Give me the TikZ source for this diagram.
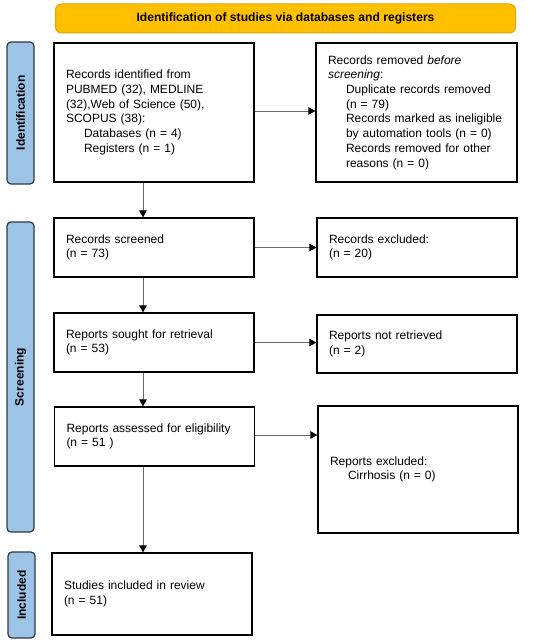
\documentclass[tikz,border=0pt]{standalone}
\usepackage{fontspec}
\setmainfont{Liberation Sans}
\usetikzlibrary{arrows.meta}

\definecolor{bannerfill}{HTML}{FFC000}
\definecolor{bannerline}{HTML}{E0A800}
\definecolor{phasefill}{HTML}{9DC3E6}
\definecolor{phaseline}{HTML}{2E3A46}
\definecolor{arrowgray}{HTML}{6A6A6A}

\tikzset{
  flowbox/.style={draw, line width=1.2pt, fill=white, text width=176pt, inner xsep=12pt,
     align=left, minimum width=200pt, font=\fontsize{12}{14.7}\selectfont},
  phase/.style={draw=phaseline, fill=phasefill, line width=1.2pt, rounded corners=4pt,
     rotate=90, minimum height=27pt, inner sep=0pt, font=\bfseries\fontsize{12}{14}\selectfont},
  banner/.style={draw=bannerline, fill=bannerfill, line width=1pt, rounded corners=6pt,
     minimum width=460pt, minimum height=29pt, font=\bfseries\fontsize{12.1}{14}\selectfont},
  flow/.style={draw=arrowgray, line width=1pt, -{Triangle[length=7pt,width=7.5pt,fill=black,color=black]}}
}
\newcommand{\ind}{\hspace*{18pt}}

\begin{document}
\begin{tikzpicture}[x=1pt,y=-1pt]
  \useasboundingbox (0,0) rectangle (550,642);

  \node[banner] (title) at (285.5,18.5) {Identification of studies via databases and registers};

  \node[phase, minimum width=142pt] (idphase) at (20.5,113) {Identification};
  \node[phase, minimum width=310pt] (scrphase) at (20.5,377) {Screening};
  \node[phase, minimum width=86pt] (incphase) at (21.5,595) {Included};

  \node[flowbox, minimum height=139pt] (identified) at (154,112.5) {Records identified from\\
    PUBMED (32), MEDLINE\\ (32),Web of Science (50),\\ SCOPUS (38):\\
    \ind Databases (n = 4)\\ \ind Registers (n = 1)};
  \node[flowbox, minimum height=139pt, minimum width=201pt, text width=177pt] (removed) at (416.5,112.5) {Records removed \textit{before}\\ \textit{screening}:\\
    \ind Duplicate records removed\\ \ind (n = 79)\\
    \ind Records marked as ineligible\\ \ind by automation tools (n = 0)\\
    \ind Records removed for other\\ \ind reasons (n = 0)};

  \node[flowbox, minimum height=59pt] (screened) at (154,247.5) {Records screened\\ (n = 73)};
  \node[flowbox, minimum height=59pt] (excluded) at (417,247.5) {Records excluded:\\ (n = 20)};

  \node[flowbox, minimum height=59pt] (sought) at (154,342.5) {Reports sought for retrieval\\ (n = 53)};
  \node[flowbox, minimum height=58pt] (notretr) at (417,344) {Reports not retrieved\\ (n = 2)};

  \node[flowbox, minimum height=59pt] (assessed) at (154.5,436.5) {Reports assessed for eligibility\\ (n = 51 )};
  \node[flowbox, minimum height=127pt] (repexcl) at (418,469.5) {Reports excluded:\\ \ind Cirrhosis (n = 0)};

  \node[flowbox, minimum height=82pt] (included) at (152,594) {Studies included in review\\ (n = 51)};

  % main stream
  \draw[flow] ([xshift=-11pt]identified.south) -- ([xshift=-11pt]identified.south |- screened.north);
  \draw[flow] ([xshift=-11pt]screened.south) -- ([xshift=-11pt]screened.south |- sought.north);
  \draw[flow] ([xshift=-11pt]sought.south) -- ([xshift=-11pt]sought.south |- assessed.north);
  \draw[flow] ([xshift=-11.5pt]assessed.south) -- ([xshift=-11.5pt]assessed.south |- included.north);

  % side exits
  \draw[flow] ([yshift=1.5pt]identified.east) -- ([yshift=1.5pt]identified.east -| removed.west);
  \draw[flow] (screened.east) -- (screened.east -| excluded.west);
  \draw[flow] (sought.east) -- (sought.east -| notretr.west);
  \draw[flow] ([yshift=1.5pt]assessed.east) -- ([yshift=1.5pt]assessed.east -| repexcl.west);
\end{tikzpicture}
\end{document}
